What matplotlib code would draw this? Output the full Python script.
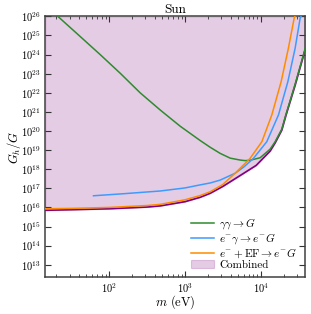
import numpy as np
from matplotlib import pyplot as plt

# values (mass in eV, bound as log10(G_h/G))
m_gg = [21, 40, 76, 140, 256, 471, 865, 1590, 2150, 2910, 3950, 5350, 6220,
        7240, 9820, 13300, 15490, 18970, 21430, 28440, 38500]
log_gg = [26.0, 25.0, 24.0, 23.02, 22.0, 21.1, 20.25, 19.5, 19.15, 18.83, 18.58,
          18.48, 18.45, 18.47, 18.6, 19.05, 19.44, 20.1, 20.84, 22.45, 24.3]

m_eg = [62, 158, 471, 1000, 1585, 2150, 2910, 4590, 6000, 8020, 12020, 17140,
        22800, 28440, 33110, 34500]
log_eg = [16.61, 16.72, 16.86, 17.02, 17.18, 17.28, 17.43, 17.79, 18.12, 18.57,
          19.44, 20.84, 22.58, 24.33, 25.9, 26.05]

m_ef = [14.3, 31.6, 100, 316, 471, 1000, 1585, 2150, 3160, 4590, 6890, 7240,
        10350, 14000, 18580, 23170, 27600, 28600]
log_ef = [15.93, 15.95, 16.0, 16.1, 16.16, 16.4, 16.62, 16.82, 17.2, 17.79,
          18.48, 18.57, 19.44, 20.84, 22.58, 24.33, 25.9, 26.05]

m_comb = [14.3, 31.6, 100, 316, 471, 1000, 1585, 2150, 3160, 4830, 8700, 13300,
          15490, 18970, 21430, 28440, 38500]
log_comb = [15.85, 15.88, 15.93, 16.02, 16.08, 16.3, 16.53, 16.74, 17.1, 17.56,
            18.2, 18.95, 19.38, 20.05, 20.8, 22.4, 24.25]

labels = [r'$\gamma\gamma \rightarrow G$',
          r'$e^{-}\gamma \rightarrow e^{-}G$',
          r'$e^{-} + \mathrm{EF} \rightarrow e^{-}G$',
          'Combined']

plt.rcParams['font.family'] = 'serif'
plt.rcParams['font.serif'] = ['cmr10', 'DejaVu Serif']
plt.rcParams['mathtext.fontset'] = 'cm'
plt.rcParams['axes.formatter.use_mathtext'] = True

fig = plt.figure(figsize=(3.11, 3.14), dpi=100)
ax = fig.add_axes([0.1447, 0.1169, 0.8360, 0.8309])

ymin, ymax = 2.2e12, 1e26
ax.fill_between(m_comb, np.power(10.0, log_comb), ymax, color='purple',
                alpha=0.2, lw=0.8, label=labels[3], zorder=1)
ax.plot(m_comb, np.power(10.0, log_comb), color='purple', lw=1.2, zorder=2)
ax.plot(m_gg, np.power(10.0, log_gg), color='#2e8b2e', lw=1.1,
        label=labels[0], zorder=3)
ax.plot(m_eg, np.power(10.0, log_eg), color='#3d9bff', lw=1.1,
        label=labels[1], zorder=3)
ax.plot(m_ef, np.power(10.0, log_ef), color='darkorange', lw=1.1,
        label=labels[2], zorder=3)

ax.set_xscale('log')
ax.set_yscale('log')
ax.set_xlim(14.2, 3.84e4)
ax.set_ylim(ymin, ymax)
ax.set_yticks([10.0 ** k for k in range(13, 27)])

ax.tick_params(which='both', direction='in', top=True, right=True,
               labelsize=7.5, color='0.2')
ax.tick_params(which='major', length=4, pad=3)
ax.tick_params(which='minor', length=2)
for s in ax.spines.values():
    s.set_linewidth(1.1)
    s.set_color('0.25')

ax.set_xlabel(r'$m$ (eV)', fontsize=9, labelpad=-1)
ax.set_ylabel(r'$G_h/G$', fontsize=9, labelpad=-1.5)
ax.set_title('Sun', fontsize=9.5, pad=1.5)

h, l = ax.get_legend_handles_labels()
order = [1, 2, 3, 0]
leg = ax.legend([h[i] for i in order], [l[i] for i in order], loc='lower right',
                frameon=False, fontsize=8, handlelength=2.0, labelspacing=0.0,
                borderaxespad=0.3, handletextpad=0.5)

fig.savefig('out.png', dpi=100)
